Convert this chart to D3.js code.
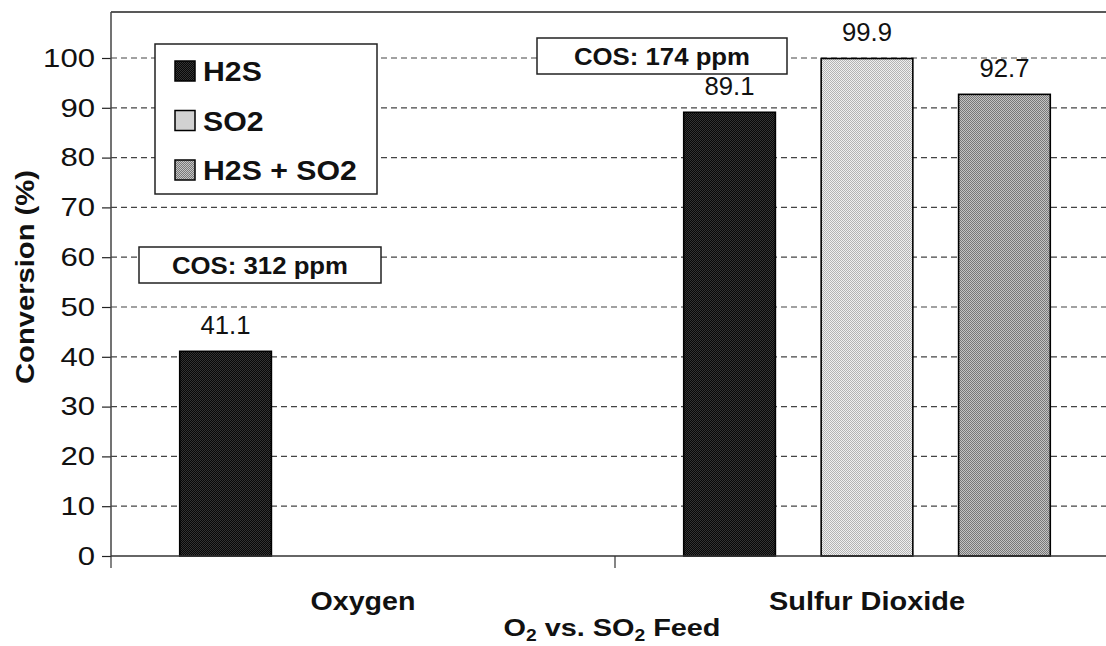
<!DOCTYPE html>
<html>
<head>
<meta charset="utf-8">
<script src="https://cdn.jsdelivr.net/npm/d3@7"></script>
<style>
  html, body { margin: 0; padding: 0; background: #fff; }
  svg { display: block; font-family: "Liberation Sans", Arial, sans-serif; }
</style>
</head>
<body>
<svg id="chart" width="1106" height="646"></svg>
<script>
// Conversion data by feed type
const categories = ["Oxygen", "Sulfur Dioxide"];
const seriesNames = ["H2S", "SO2", "H2S + SO2"];
const h2sValues = [41.1, 89.1];
const so2Values = [null, 99.9];
const mixValues = [null, 92.7];
const yTicks = [0, 10, 20, 30, 40, 50, 60, 70, 80, 90, 100];
const cosNotes = ["COS: 312 ppm", "COS: 174 ppm"];

const seriesValues = [h2sValues, so2Values, mixValues];

const svg = d3.select("#chart");
const plotLeft = 111, plotBottom = 556, plotTop = 12, plotRight = 1106;

const y = d3.scaleLinear().domain([0, 100]).range([plotBottom, 58]);
const x0 = d3.scaleBand().domain(categories).range([plotLeft, 1119]).padding(0);
const x1 = d3.scaleBand().domain(seriesNames).range([0, x0.bandwidth()])
  .paddingInner(0.333).paddingOuter(0.5);

// widen text slightly, the chart's lettering runs a little broad
const widen = (sel, k) => sel.each(function () {
  this.setAttribute("textLength", this.getComputedTextLength() * k);
  this.setAttribute("lengthAdjust", "spacingAndGlyphs");
});

// stipple fills for the three series
const defs = svg.append("defs");
const fills = [
  { id: "pH2S", bg: "#080808", dot: "#333333" },
  { id: "pSO2", bg: "#f0f0f0", dot: "#b4b4b4" },
  { id: "pMix", bg: "#c4c4c4", dot: "#787878" }
];
fills.forEach(f => {
  const p = defs.append("pattern").attr("id", f.id)
    .attr("patternUnits", "userSpaceOnUse").attr("width", 2).attr("height", 2);
  p.append("rect").attr("width", 2).attr("height", 2).attr("fill", f.bg);
  p.append("rect").attr("width", 1).attr("height", 1).attr("fill", f.dot);
  p.append("rect").attr("x", 1).attr("y", 1).attr("width", 1).attr("height", 1).attr("fill", f.dot);
});
const fillFor = i => `url(#${fills[i].id})`;

// dashed gridlines
svg.append("g").selectAll("line").data(yTicks.filter(t => t > 0)).join("line")
  .attr("x1", plotLeft).attr("x2", plotRight)
  .attr("y1", d => y(d)).attr("y2", d => y(d))
  .attr("stroke", "#444").attr("stroke-width", 1.2)
  .attr("stroke-dasharray", "6,4");

// plot frame: top edge, left axis
svg.append("line").attr("x1", plotLeft).attr("x2", plotRight).attr("y1", plotTop).attr("y2", plotTop)
  .attr("stroke", "#222").attr("stroke-width", 1.5);

const yAxis = svg.append("g").attr("transform", `translate(${plotLeft},0)`)
  .call(d3.axisLeft(y).tickValues(yTicks).tickSize(9).tickPadding(7).tickFormat(d3.format("d")));
yAxis.attr("font-size", null).attr("font-family", null);
yAxis.select(".domain").remove();
yAxis.selectAll(".tick line").attr("stroke", "#222").attr("stroke-width", 1.2);
yAxis.selectAll(".tick text").style("font-size", "26px").attr("fill", "#111")
  .attr("textLength", d => String(d).length * 17.3).attr("lengthAdjust", "spacingAndGlyphs");
svg.append("line").attr("x1", plotLeft).attr("x2", plotLeft).attr("y1", plotTop).attr("y2", plotBottom)
  .attr("stroke", "#444").attr("stroke-width", 1.5);

// bars
const barData = [];
categories.forEach((c, ci) => {
  seriesNames.forEach((s, si) => {
    const v = seriesValues[si][ci];
    if (v != null) barData.push({ c, s, si, v });
  });
});
svg.append("g").selectAll("rect").data(barData).join("rect")
  .attr("x", d => x0(d.c) + x1(d.s))
  .attr("y", d => y(d.v))
  .attr("width", x1.bandwidth())
  .attr("height", d => y(0) - y(d.v))
  .attr("fill", d => fillFor(d.si))
  .attr("stroke", "#000").attr("stroke-width", 1.6);

// value labels above bars
svg.append("g").selectAll("text").data(barData).join("text")
  .attr("x", d => x0(d.c) + x1(d.s) + x1.bandwidth() / 2)
  .attr("y", d => y(d.v) - 17)
  .attr("text-anchor", "middle").style("font-size", "25px").attr("fill", "#111")
  .attr("textLength", 50).attr("lengthAdjust", "spacingAndGlyphs")
  .text(d => d.v.toFixed(1));

// x baseline and category dividers
svg.append("line").attr("x1", plotLeft).attr("x2", plotRight).attr("y1", plotBottom).attr("y2", plotBottom)
  .attr("stroke", "#333").attr("stroke-width", 1.5);
svg.append("g").selectAll("line").data(categories).join("line")
  .attr("x1", d => x0(d)).attr("x2", d => x0(d))
  .attr("y1", plotBottom).attr("y2", plotBottom + 12)
  .attr("stroke", "#333").attr("stroke-width", 1.2);

// category labels
svg.append("g").selectAll("text").data(categories).join("text")
  .attr("x", d => x0(d) + x0.bandwidth() / 2)
  .attr("y", 610)
  .attr("text-anchor", "middle").attr("font-size", 26).attr("font-weight", "bold")
  .attr("fill", "#111")
  .attr("textLength", (d, i) => i === 0 ? 105 : 196).attr("lengthAdjust", "spacingAndGlyphs")
  .text(d => d);

// COS annotation boxes
const noteBoxes = [
  { x: 139, y: 247, w: 242, h: 36 },
  { x: 537, y: 38, w: 250, h: 36 }
];
const notes = svg.append("g").selectAll("g").data(cosNotes).join("g");
notes.append("rect")
  .attr("x", (d, i) => noteBoxes[i].x).attr("y", (d, i) => noteBoxes[i].y)
  .attr("width", (d, i) => noteBoxes[i].w).attr("height", (d, i) => noteBoxes[i].h)
  .attr("fill", "#fff").attr("stroke", "#222").attr("stroke-width", 1.5);
notes.append("text")
  .attr("x", (d, i) => noteBoxes[i].x + noteBoxes[i].w / 2)
  .attr("y", (d, i) => noteBoxes[i].y + 27)
  .attr("text-anchor", "middle").attr("font-size", 24).attr("font-weight", "bold")
  .attr("fill", "#111")
  .attr("textLength", 176).attr("lengthAdjust", "spacingAndGlyphs")
  .text(d => d);

// legend
const legend = svg.append("g");
legend.append("rect").attr("x", 155).attr("y", 44).attr("width", 222).attr("height", 150)
  .attr("fill", "#fff").attr("stroke", "#222").attr("stroke-width", 1.5);
const items = legend.selectAll("g").data(seriesNames).join("g")
  .attr("transform", (d, i) => `translate(175,${71 + i * 49.5})`);
items.append("rect").attr("x", 0).attr("y", -10).attr("width", 20).attr("height", 20)
  .attr("fill", (d, i) => fillFor(i)).attr("stroke", "#000").attr("stroke-width", 1.5);
items.append("text").attr("x", 28).attr("y", 10)
  .attr("font-size", 28).attr("font-weight", "bold").attr("fill", "#111")
  .text(d => d)
  .call(widen, 1.08);

// axis titles
svg.append("text")
  .attr("transform", "translate(34,277) rotate(-90)")
  .attr("text-anchor", "middle").attr("font-size", 25).attr("font-weight", "bold")
  .attr("fill", "#111")
  .attr("textLength", 214).attr("lengthAdjust", "spacingAndGlyphs")
  .text("Conversion (%)");

const xTitle = svg.append("text")
  .attr("x", 612).attr("y", 636)
  .attr("text-anchor", "middle").attr("font-size", 24).attr("font-weight", "bold")
  .attr("fill", "#111")
  .attr("textLength", 217).attr("lengthAdjust", "spacingAndGlyphs");
const titleParts = [["O", 0], ["2", 1], [" vs. S", 0], ["O", 0], ["2", 1], [" Feed", 0]];
let prevSub = 0;
titleParts.forEach(([t, sub]) => {
  const ts = xTitle.append("tspan").text(t);
  if (sub) ts.attr("font-size", 16).attr("dy", 5);
  else if (prevSub) ts.attr("dy", -5);
  prevSub = sub;
});
</script>
</body>
</html>
